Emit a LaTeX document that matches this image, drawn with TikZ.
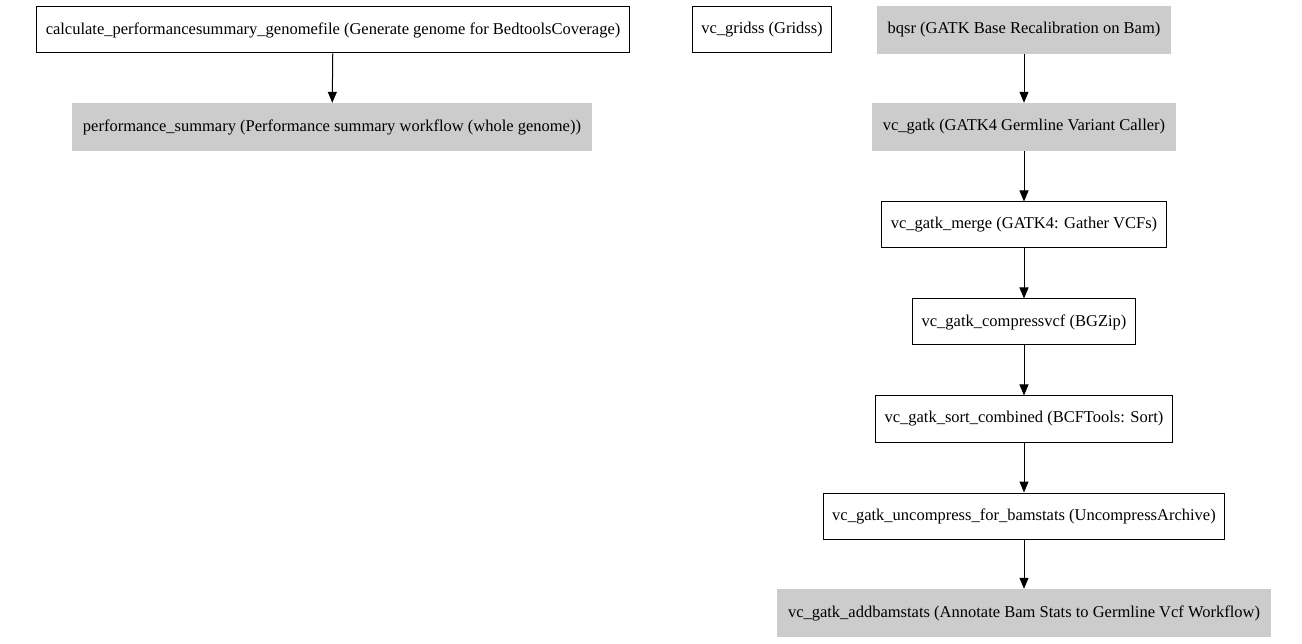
\documentclass[tikz,border=0pt]{standalone}
\usepackage{fontspec}
\setmainfont{Liberation Serif}
\usetikzlibrary{arrows.meta}
\begin{document}
\begin{tikzpicture}[x=1pt,y=-1pt,
  box/.style={draw=black,line width=1pt,fill=white,minimum height=46pt,inner xsep=9pt,font=\fontsize{16.5}{18}\selectfont},
  gbox/.style={fill=black!20,minimum height=48pt,inner xsep=11pt,font=\fontsize{16.5}{18}\selectfont},
  edge/.style={-{Triangle[length=11pt,width=9pt]},line width=1pt}]
\useasboundingbox (0,0) rectangle (1302,644);
\node[box] (calc) at (333,30) {calculate\_performancesummary\_genomefile (Generate genome for BedtoolsCoverage)};
\node[gbox] (perf) at (332,127) {performance\_summary (Performance summary workflow (whole genome))};
\node[box] (gridss) at (762,30) {vc\_gridss (Gridss)};
\node[gbox] (bqsr) at (1024,30) {bqsr (GATK Base Recalibration on Bam)};
\node[gbox] (gatk) at (1024,127) {vc\_gatk (GATK4 Germline Variant Caller)};
\node[box] (merge) at (1024,225) {vc\_gatk\_merge (GATK4: Gather VCFs)};
\node[box] (comp) at (1024,322) {vc\_gatk\_compressvcf (BGZip)};
\node[box] (sort) at (1024,419) {vc\_gatk\_sort\_combined (BCFTools: Sort)};
\node[box] (unc) at (1024,516) {vc\_gatk\_uncompress\_for\_bamstats (UncompressArchive)};
\node[gbox] (add) at (1024,613) {vc\_gatk\_addbamstats (Annotate Bam Stats to Germline Vcf Workflow)};
\draw[edge] (calc) -- (perf);
\draw[edge] (bqsr) -- (gatk);
\draw[edge] (gatk) -- (merge);
\draw[edge] (merge) -- (comp);
\draw[edge] (comp) -- (sort);
\draw[edge] (sort) -- (unc);
\draw[edge] (unc) -- (add);
\end{tikzpicture}
\end{document}
